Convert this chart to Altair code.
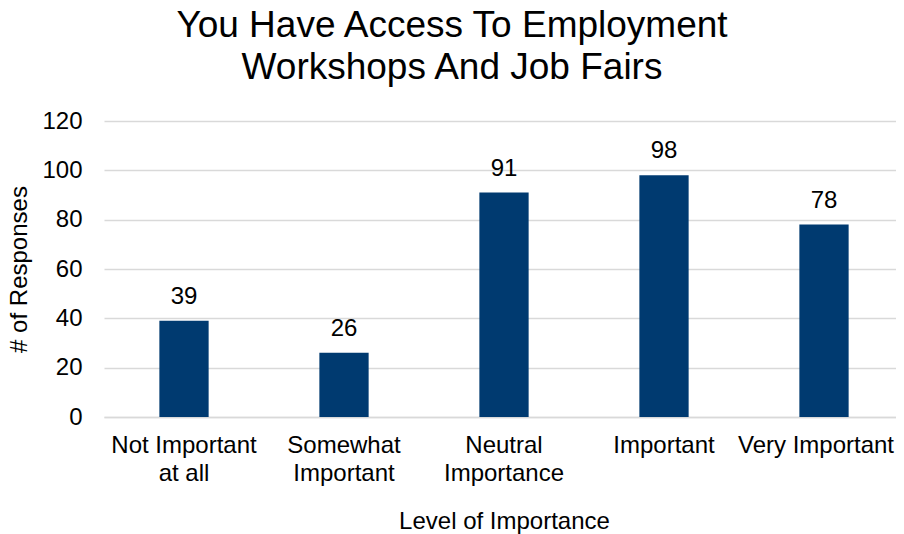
import altair as alt
import pandas as pd

categories = ["Not Important\nat all", "Somewhat\nImportant", "Neutral\nImportance", "Important", "Very Important"]
responses = [39, 26, 91, 98, 78]

df = pd.DataFrame({"category": categories, "responses": responses})

FONT = "Liberation Sans"

base = alt.Chart(df).encode(
    x=alt.X("category:N", sort=categories,
            scale=alt.Scale(paddingInner=0.692, paddingOuter=0.346),
            axis=alt.Axis(title="Level of Importance", labelAngle=0,
                          labelExpr="split(datum.label, '\\n')",
                          labelOffset=alt.condition("datum.value == 'Very Important'",
                                                    alt.value(-8), alt.value(0)),
                          labelLineHeight=28, labelPadding=16, labelFontSize=24,
                          labelColor="#000000", labelFont=FONT,
                          titleFont=FONT, titleFontSize=24, titleFontWeight="normal",
                          titleColor="#000000", titlePadding=24,
                          domainColor="#d9d9d9", domainWidth=1.5, ticks=False,
                          grid=False)),
    y=alt.Y("responses:Q", scale=alt.Scale(domain=[0, 120]),
            axis=alt.Axis(title="# of Responses", values=[0, 20, 40, 60, 80, 100, 120],
                          labelFontSize=24, labelColor="#000000", labelFont=FONT,
                          labelPadding=22, ticks=False, domain=False,
                          gridColor="#d9d9d9", gridWidth=1.5,
                          titleFont=FONT, titleFontSize=24, titleFontWeight="normal",
                          titleColor="#000000", titlePadding=10)),
)

bars = base.mark_bar(color="#003A70")
labels = base.mark_text(baseline="alphabetic", dy=-17, fontSize=24, font=FONT, color="#000000").encode(
    text="responses:Q")

chart = (bars + labels).properties(
    width=800, height=296,
    title=alt.TitleParams(["You Have Access To Employment", "Workshops And Job Fairs"],
                          font=FONT, fontSize=37, fontWeight="normal", color="#000000",
                          lineHeight=42, anchor="middle", dx=-52, offset=22),
    autosize=alt.AutoSizeParams(type="none"),
    padding={"left": 96, "top": 113, "right": -8, "bottom": 117},
).configure_view(stroke=None)

chart.save("out.html", embed_options={"renderer": "svg", "actions": False})
